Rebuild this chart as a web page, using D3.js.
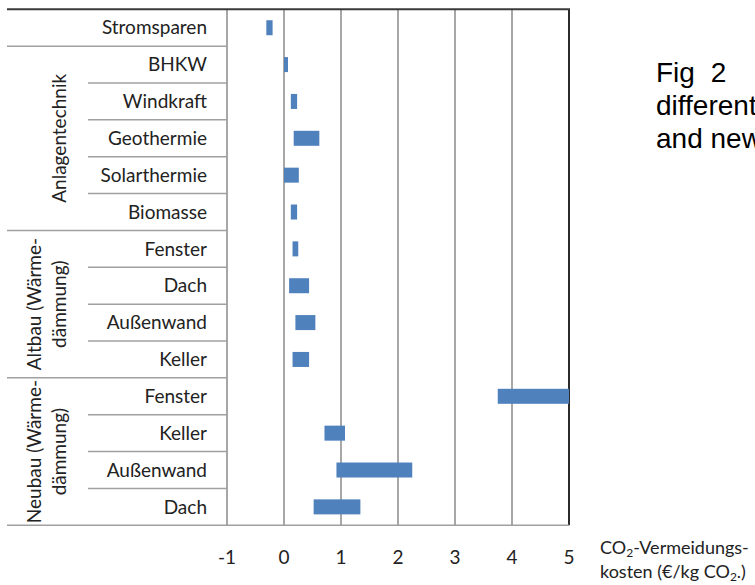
<!DOCTYPE html>
<html>
<head>
<meta charset="utf-8">
<script src="https://cdn.jsdelivr.net/npm/d3@7"></script>
<style>
  body { margin: 0; background: #fff; }
  svg { display: block; }
</style>
</head>
<body>
<div id="chart"></div>
<script>
// CO2 avoidance costs, floating bars (low..high) per measure
const labels = ["Stromsparen", "BHKW", "Windkraft", "Geothermie", "Solarthermie", "Biomasse",
  "Fenster", "Dach", "Außenwand", "Keller",
  "Fenster", "Keller", "Außenwand", "Dach"];
const lows  = [-0.31, 0.00, 0.12, 0.17, 0.00, 0.12, 0.15, 0.09, 0.20, 0.15, 3.75, 0.71, 0.92, 0.52];
const highs = [-0.20, 0.07, 0.23, 0.62, 0.26, 0.23, 0.25, 0.44, 0.55, 0.44, 5.00, 1.07, 2.25, 1.34];

// row groups: label lines, first row, last row
const groupNames = [[], ["Anlagentechnik"], ["Altbau (Wärme-", "dämmung)"], ["Neubau (Wärme-", "dämmung)"]];
const groupFirst = [0, 1, 6, 10];
const groupLast  = [0, 5, 9, 13];

const tickValues = [-1, 0, 1, 2, 3, 4, 5];

const width = 755, height = 585;
const svg = d3.select("#chart").append("svg")
  .attr("width", width)
  .attr("height", height);

const font = "Lato, 'Open Sans', sans-serif";
const fs = 19;
const plotTop = 9.3, plotBottom = 525.3;
const plotLeft = 227, plotRight = 569;

const x = d3.scaleLinear().domain([-1, 5]).range([plotLeft, plotRight]);
const y = d3.scaleBand().domain(d3.range(labels.length)).range([plotTop, plotBottom]);

// vertical grid lines
svg.append("g")
  .selectAll("line")
  .data(tickValues)
  .enter().append("line")
  .attr("x1", d => x(d)).attr("x2", d => x(d))
  .attr("y1", plotTop).attr("y2", plotBottom)
  .attr("stroke", d => d === 5 ? "#2b2b2b" : "#8a8a8a")
  .attr("stroke-width", d => d === 5 ? 2 : 1.5);

// row separators in the category area
const rowLines = d3.range(1, labels.length)
  .filter(i => !groupFirst.includes(i));
svg.append("g")
  .selectAll("line")
  .data(rowLines)
  .enter().append("line")
  .attr("x1", 88).attr("x2", plotLeft)
  .attr("y1", d => y(d)).attr("y2", d => y(d))
  .attr("stroke", "#a0a0a0")
  .attr("stroke-width", 1.5);

// group separators (full width of the category area)
svg.append("g")
  .selectAll("line")
  .data(groupFirst.slice(1))
  .enter().append("line")
  .attr("x1", 7).attr("x2", plotLeft)
  .attr("y1", d => y(d)).attr("y2", d => y(d))
  .attr("stroke", "#a0a0a0")
  .attr("stroke-width", 1.5);

// bottom and top borders
svg.append("line")
  .attr("x1", 7).attr("x2", plotRight)
  .attr("y1", plotBottom).attr("y2", plotBottom)
  .attr("stroke", "#a0a0a0").attr("stroke-width", 1.5);
svg.append("line")
  .attr("x1", 7).attr("x2", plotRight + 1)
  .attr("y1", plotTop).attr("y2", plotTop)
  .attr("stroke", "#3a3a3a").attr("stroke-width", 2);

// bars
const barH = 15;
svg.append("g")
  .selectAll("rect")
  .data(labels)
  .enter().append("rect")
  .attr("x", (d, i) => x(lows[i]))
  .attr("width", (d, i) => x(highs[i]) - x(lows[i]))
  .attr("y", (d, i) => y(i) + y.bandwidth() / 2 - barH / 2)
  .attr("height", barH)
  .attr("fill", "#4f81bd");

// row labels
svg.append("g")
  .selectAll("text")
  .data(labels)
  .enter().append("text")
  .attr("x", 207)
  .attr("y", (d, i) => y(i) + y.bandwidth() / 2)
  .attr("dy", "0.35em")
  .attr("text-anchor", "end")
  .attr("font-family", font)
  .attr("font-size", fs)
  .attr("fill", "#222")
  .text(d => d);

// rotated group labels
groupNames.forEach((lines, g) => {
  const cy = (y(groupFirst[g]) + y(groupLast[g]) + y.bandwidth()) / 2;
  lines.forEach((t, k) => {
    const cx = lines.length === 1 ? 59 : (k === 0 ? 34 : 59);
    svg.append("text")
      .attr("transform", `translate(${cx},${cy}) rotate(-90)`)
      .attr("dy", "0.35em")
      .attr("text-anchor", "middle")
      .attr("font-family", font)
      .attr("font-size", fs)
      .attr("fill", "#222")
      .text(t);
  });
});

// tick labels
svg.append("g")
  .selectAll("text")
  .data(tickValues)
  .enter().append("text")
  .attr("x", d => x(d))
  .attr("y", 564)
  .attr("text-anchor", "middle")
  .attr("font-family", font)
  .attr("font-size", fs)
  .attr("fill", "#222")
  .text(d => d);

// axis title
const t1 = svg.append("text")
  .attr("x", 600).attr("y", 554)
  .attr("font-family", font).attr("font-size", 18).attr("fill", "#222");
t1.append("tspan").text("CO");
t1.append("tspan").attr("font-size", 12).attr("dy", 3).text("2");
t1.append("tspan").attr("dy", -3).text("-Vermeidungs-");

const t2 = svg.append("text")
  .attr("x", 600).attr("y", 578)
  .attr("font-family", font).attr("font-size", 18).attr("fill", "#222");
t2.append("tspan").text("kosten (€/kg CO");
t2.append("tspan").attr("font-size", 12).attr("dy", 3).text("2");
t2.append("tspan").attr("dy", -3).text(".)");

// caption text cut off at the right edge
const caption = ["Fig 2", "different", "and new"];
svg.append("g")
  .selectAll("text")
  .data(caption)
  .enter().append("text")
  .attr("x", 656)
  .attr("y", (d, i) => 82 + i * 33)
  .attr("font-family", "'Liberation Sans', Arial, sans-serif")
  .attr("font-size", 28)
  .attr("word-spacing", (d, i) => i === 0 ? 8 : 0)
  .attr("fill", "#000")
  .text(d => d);
</script>
</body>
</html>
